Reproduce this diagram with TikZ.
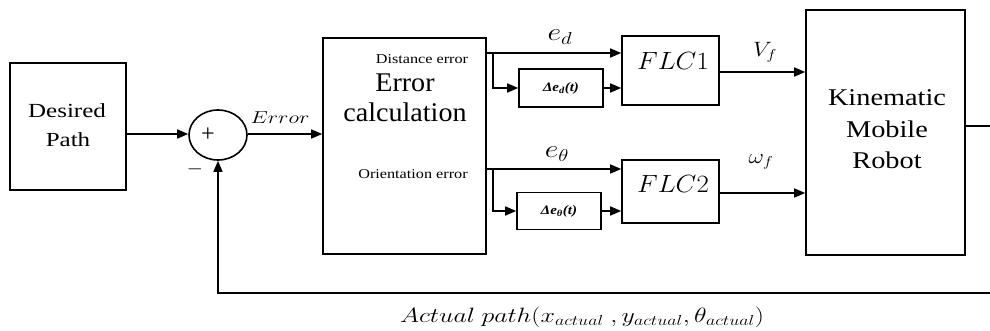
\documentclass[tikz,border=0pt]{standalone}
\usepackage{fontspec}
\setmainfont{Liberation Serif}
\usetikzlibrary{arrows.meta,shapes.geometric}
\newcommand{\sx}[2]{\scalebox{#1}[1]{#2}}
\newcommand{\fs}[2]{\fontsize{#1}{#2}\selectfont}
\begin{document}
\begin{tikzpicture}[x=1pt,y=-1pt,
  box/.style={draw, line width=1.6pt, inner sep=0pt},
  ln/.style={line width=1.6pt},
  arr/.style={line width=1.6pt, -{Triangle[length=11pt,width=9pt]}},
  lbl/.style={inner sep=0pt},
  bl/.style={inner sep=0pt, anchor=base}]
\useasboundingbox (0,0) rectangle (990,331);

% blocks
\node[box, minimum width=116pt, minimum height=127pt] (dp) at (68,126.5) {};
\node[bl] (dp1) at (67,118) {\fs{20}{24}\sx{1.25}{Desired}};
\node[bl] (dp2) at (68,147) {\fs{20}{24}\sx{1.25}{Path}};

\node[draw, ellipse, line width=1.6pt, minimum width=58pt, minimum height=50pt, inner sep=0pt] (sum) at (218,135) {};
\node[lbl] (plus) at (208,135) {\fs{24}{24}+};
\node[lbl] (minus) at (195,169) {\fs{22}{22}$-$};

\node[box, minimum width=163pt, minimum height=216pt] (ec) at (404.5,146) {};
\node[lbl] (de) at (422,59) {\fs{13.5}{14}\sx{1.2}{Distance error}};
\node[bl] (ec1) at (405,92) {\fs{27}{30}\sx{1.04}{Error}};
\node[bl] (ec2) at (405,122) {\fs{27}{30}\sx{1.04}{calculation}};
\node[lbl] (oe) at (413,174) {\fs{13.5}{14}\sx{1.2}{Orientation error}};

\node[box, minimum width=84pt, minimum height=38pt] (d1) at (561,88)
  {\fs{13}{14}\bfseries\itshape\sx{1.15}{Δe\textsubscript{d}(t)}};
\node[box, minimum width=84pt, minimum height=37pt] (d2) at (559,211)
  {\fs{13}{14}\bfseries\itshape\sx{1.15}{Δe\textsubscript{θ}(t)}};

\node[box, minimum width=97pt, minimum height=69pt] (flc1) at (670.5,70.5) {};
\node[lbl] (flc1t) at (673,61) {\fs{23}{23}\sx{1.08}{$FLC1$}};
\node[box, minimum width=97pt, minimum height=63pt] (flc2) at (670.5,191.5) {};
\node[lbl] (flc2t) at (673,184) {\fs{23}{23}\sx{1.08}{$FLC2$}};

\node[box, minimum width=159pt, minimum height=245pt] (rb) at (885.5,132.5) {};
\node[bl] (rb1) at (887,106) {\fs{24}{32}\sx{1.18}{Kinematic}};
\node[bl] (rb2) at (887,137.5) {\fs{24}{32}\sx{1.18}{Mobile}};
\node[bl] (rb3) at (887,169) {\fs{24}{32}\sx{1.18}{Robot}};

% labels
\node[lbl] (errl) at (280,118) {\fs{17}{17}\sx{1.28}{$Error$}};
\node[lbl] (edl) at (560,37) {\fs{25}{25}\sx{1.2}{$e_d$}};
\node[lbl] (etl) at (557,154) {\fs{25}{25}\sx{1.2}{$e_\theta$}};
\node[lbl] (vfl) at (765,52) {\fs{21}{21}\sx{1.15}{$V_f$}};
\node[lbl] (wfl) at (761,162) {\fs{21}{21}\sx{1.15}{$\omega_f$}};
\node[lbl] (apl) at (582,317)
  {\fs{21}{21}\sx{1.25}{$Actual\ path(x_{actual}\ ,y_{actual},\theta_{actual})$}};

% connectors
\draw[arr] (dp.east |- 0,134) -- (sum.west |- 0,134);
\draw[arr] (sum.east |- 0,134) -- (ec.west |- 0,134);

\coordinate (b1) at (493,53);
\draw[arr] (ec.east |- b1) -- (flc1.west |- b1);
\draw[arr] (b1) |- (d1.west);
\draw[arr] (d1.east) -- (d1.east -| flc1.west);

\coordinate (b2) at (493,169);
\draw[arr] (ec.east |- b2) -- (flc2.west |- b2);
\draw[arr] (b2) |- (d2.west);
\draw[arr] (d2.east) -- (d2.east -| flc2.west);

\draw[arr] (flc1.east |- 0,72) -- (rb.west |- 0,72);
\draw[arr] (flc2.east |- 0,193) -- (rb.west |- 0,193);

\coordinate (oute) at (990,126);
\draw[ln] (rb.east |- oute) -- (oute);
\coordinate (fb) at (990,293);
\draw[arr] (fb) -| (sum.south);
\end{tikzpicture}
\end{document}
